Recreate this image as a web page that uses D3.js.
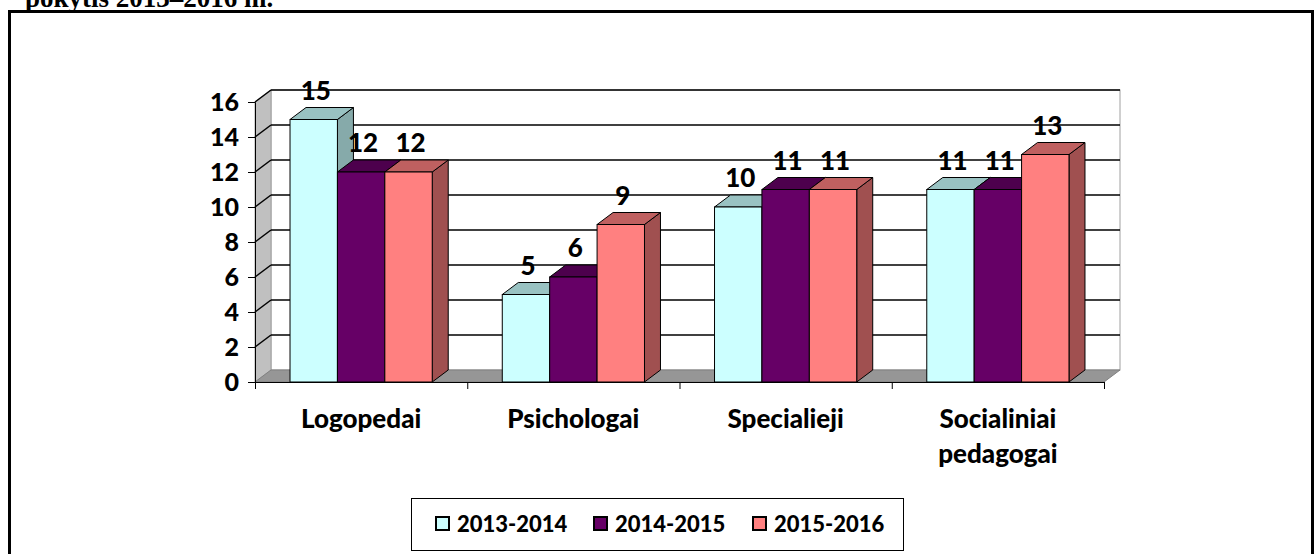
<!DOCTYPE html>
<html>
<head>
<meta charset="utf-8">
<script src="https://cdn.jsdelivr.net/npm/d3@7"></script>
<style>
  body { margin: 0; background: #fff; }
  text { font-family: Lato, "Open Sans", sans-serif; font-weight: 900; }
</style>
</head>
<body>
<div id="chart"></div>
<script>
// chart data
const categories = [["Logopedai"], ["Psichologai"], ["Specialieji"], ["Socialiniai", "pedagogai"]];
const seriesNames = ["2013-2014", "2014-2015", "2015-2016"];
const values2013 = [15, 5, 10, 11];
const values2014 = [12, 6, 11, 11];
const values2015 = [12, 9, 11, 13];
const yTicks = [0, 2, 4, 6, 8, 10, 12, 14, 16];

const allValues = [values2013, values2014, values2015];
const front = ["#ccffff", "#660066", "#ff8080"];
const topCol = ["#99c2c2", "#4d004d", "#bf6060"];
const sideCol = ["#86aaaa", "#3f003f", "#a05050"];

let W = 1315, H = 554;
let dx = 16, dy = -12; // depth offset

let svg = d3.select("#chart").append("svg")
  .attr("width", W)
  .attr("height", H);

// title, cut off at the top like the source
svg.append("text")
  .attr("x", 25)
  .attr("y", 7)
  .attr("font-size", "27px")
  .style("font-family", "'Liberation Serif', serif")
  .style("font-weight", "bold")
  .text("pokytis 2013–2016 m.");

// outer frame
svg.append("rect")
  .attr("x", 9.5).attr("y", 11.5)
  .attr("width", 1303).attr("height", 560)
  .attr("fill", "none")
  .attr("stroke", "#000")
  .attr("stroke-width", 3);

let catKeys = categories.map(c => c.join(" "));
let x0 = d3.scaleBand()
  .domain(catKeys)
  .range([255, 1104])
  .paddingInner(0.33)
  .paddingOuter(0.165);
let x1 = d3.scaleBand()
  .domain(seriesNames)
  .range([0, x0.bandwidth()]);
let y = d3.scaleLinear()
  .domain([0, 16])
  .range([382, 102]);

let left = 255, right = 1104;

// back wall
svg.append("rect")
  .attr("x", left + dx).attr("y", y(16) + dy)
  .attr("width", right - left).attr("height", y(0) - y(16))
  .attr("fill", "#fff")
  .attr("stroke", "#a0a0a0");

// side wall
svg.append("path")
  .attr("d", `M${left},${y(0)} L${left},${y(16)} L${left + dx},${y(16) + dy} L${left + dx},${y(0) + dy} Z`)
  .attr("fill", "#c0c0c0")
  .attr("stroke", "#a0a0a0");

// floor
svg.append("path")
  .attr("d", `M${left},${y(0)} L${right},${y(0)} L${right + dx},${y(0) + dy} L${left + dx},${y(0) + dy} Z`)
  .attr("fill", "#969696")
  .attr("stroke", "#808080");

// gridlines on the walls
yTicks.filter(t => t > 0).forEach(t => {
  svg.append("line")
    .attr("x1", left + dx).attr("x2", right + dx)
    .attr("y1", y(t) + dy).attr("y2", y(t) + dy)
    .attr("stroke", "#000").attr("stroke-width", 1.5);
  svg.append("line")
    .attr("x1", left).attr("x2", left + dx)
    .attr("y1", y(t)).attr("y2", y(t) + dy)
    .attr("stroke", "#000").attr("stroke-width", 1.5);
});

// y axis
let yAxis = svg.append("g")
  .attr("transform", `translate(${left},0)`)
  .call(d3.axisLeft(y).tickValues(yTicks).tickSize(7).tickPadding(9));
yAxis.select(".domain").attr("stroke", "#000");
yAxis.selectAll("text")
  .attr("font-size", "25px")
  .attr("fill", "#000")
  .style("font-family", "Lato, sans-serif")
  .style("font-weight", "900");

// x axis
let xAxisScale = d3.scaleLinear().domain([0, 4]).range([left, right]);
let xAxis = svg.append("g")
  .attr("transform", `translate(0,${y(0)})`)
  .call(d3.axisBottom(xAxisScale).ticks(4).tickSize(7).tickFormat(""));
xAxis.select(".domain").attr("stroke", "#000");

// category labels
categories.forEach((lines, i) => {
  let cx = x0(catKeys[i]) + x0.bandwidth() / 2;
  let t = svg.append("text")
    .attr("text-anchor", "middle")
    .attr("font-size", "26px");
  lines.forEach((ln, j) => {
    t.append("tspan")
      .attr("x", cx)
      .attr("y", 428 + j * 35)
      .text(ln);
  });
});

// bars
catKeys.forEach((c, i) => {
  seriesNames.forEach((s, k) => {
    let v = allValues[k][i];
    let bx = x0(c) + x1(s), bw = x1.bandwidth();
    let by = y(v), b0 = y(0);
    let g = svg.append("g").attr("stroke", "#000").attr("stroke-width", 1);
    g.append("path")
      .attr("d", `M${bx + bw},${b0} L${bx + bw + dx},${b0 + dy} L${bx + bw + dx},${by + dy} L${bx + bw},${by} Z`)
      .attr("fill", sideCol[k]);
    g.append("path")
      .attr("d", `M${bx},${by} L${bx + dx},${by + dy} L${bx + bw + dx},${by + dy} L${bx + bw},${by} Z`)
      .attr("fill", topCol[k]);
    g.append("rect")
      .attr("x", bx).attr("y", by)
      .attr("width", bw).attr("height", b0 - by)
      .attr("fill", front[k]);
  });
});

// value labels
catKeys.forEach((c, i) => {
  seriesNames.forEach((s, k) => {
    let v = allValues[k][i];
    svg.append("text")
      .attr("x", x0(c) + x1(s) + x1.bandwidth() / 2 + 2)
      .attr("y", y(v) - 20)
      .attr("text-anchor", "middle")
      .attr("font-size", "26px")
      .text(v);
  });
});

// legend
svg.append("rect")
  .attr("x", 411.5).attr("y", 498.5)
  .attr("width", 492).attr("height", 52)
  .attr("fill", "#fff")
  .attr("stroke", "#000");

let legendX = [436, 594, 753];
seriesNames.forEach((s, k) => {
  svg.append("rect")
    .attr("x", legendX[k]).attr("y", 517)
    .attr("width", 13).attr("height", 13)
    .attr("fill", front[k])
    .attr("stroke", "#000").attr("stroke-width", 2);
  svg.append("text")
    .attr("x", legendX[k] + 21)
    .attr("y", 532)
    .attr("font-size", "22px")
    .text(s);
});
</script>
</body>
</html>
